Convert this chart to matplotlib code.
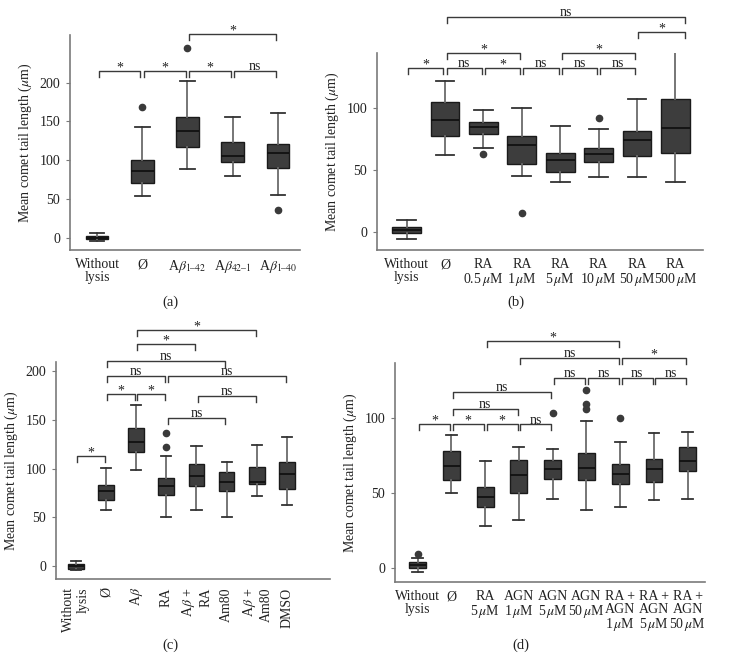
import matplotlib
matplotlib.use('Agg')
import matplotlib.pyplot as plt

plt.rcParams['font.family'] = ['Liberation Serif', 'DejaVu Serif']
plt.rcParams['mathtext.fontset'] = 'stix'

# ---- panel (a) ----
a_labels = ['Without\nlysis', 'Ø', r'A$\beta_{1–42}$', r'A$\beta_{42–1}$', r'A$\beta_{1–40}$']
a_low = [-4, 54, 89, 79, 55]
a_q1 = [-2, 71, 117, 98, 90]
a_med = [0, 85.5, 137, 106, 109]
a_q3 = [2, 100, 156, 123, 121]
a_high = [5.5, 143, 202, 156, 161]
a_out = [[], [168], [245], [], [36]]
a_brackets = [(0, 1, 215, '*'), (1, 2, 215, '*'), (2, 3, 215, '*'),
              (3, 4, 215, 'ns'), (2, 4, 263, '*')]

# ---- panel (b) ----
b_labels = ['Without\nlysis', 'Ø', 'RA\n0.5$\\,\\mu$M', 'RA\n1$\\,\\mu$M', 'RA\n5$\\,\\mu$M',
            'RA\n10$\\,\\mu$M', 'RA\n50$\\,\\mu$M', 'RA\n500$\\,\\mu$M']
b_low = [-6, 62, 68, 45, 40, 44, 44.6, 40]
b_q1 = [-1.3, 78, 79.5, 54.6, 48.7, 56.8, 61.6, 64]
b_med = [1.4, 91, 84.7, 70, 58, 63.3, 74.4, 84]
b_q3 = [4, 105, 88.7, 77.4, 64, 67.6, 81.7, 108]
b_high = [9.5, 122.5, 98.7, 100.6, 86, 83.6, 107.4, 146.8]
b_out = [[], [], [63.3], [14.9], [], [92.5], [], []]
b_brackets = [(0, 1, 132.5, '*'), (1, 2, 132.5, 'ns'), (2, 3, 132.5, '*'),
              (3, 4, 132.5, 'ns'), (4, 5, 132.5, 'ns'), (5, 6, 132.5, 'ns'),
              (1, 3, 145, '*'), (4, 6, 145, '*'), (6, 7.3, 161.7, '*'),
              (1, 7.3, 174.5, 'ns')]

# ---- panel (c) ----
c_labels = ['Without\nlysis', 'Ø', r'A$\beta$', 'RA', 'A$\\beta$ +\nRA', 'Am80',
            'A$\\beta$ +\nAm80', 'DMSO']
c_low = [-4, 58, 98.7, 51, 58, 51, 72, 62.7]
c_q1 = [-2.4, 67.7, 116.7, 73.5, 82.3, 76.9, 84.1, 79]
c_med = [0, 77.2, 127.2, 82.3, 92.9, 86.4, 86.1, 94.3]
c_q3 = [2.4, 83, 141.2, 90.2, 105.1, 96.3, 101.4, 106.5]
c_high = [5, 100.4, 165, 112.7, 122.8, 106.5, 123.9, 132]
c_out = [[], [], [], [121.8, 136.7], [], [], [], []]
c_brackets = [(0, 1, 113.3, '*'), (1, 2, 176, '*'), (2, 3, 176, '*'),
              (3, 5, 151.4, 'ns'), (4, 6, 174.2, 'ns'), (1, 3, 194.6, 'ns'),
              (3, 7, 194.6, 'ns'), (1, 5, 210.2, 'ns'), (2, 4, 227.2, '*'),
              (2, 6, 241.5, '*')]

# ---- panel (d) ----
d_labels = ['Without\nlysis', 'Ø', 'RA\n5$\\,\\mu$M', 'AGN\n1$\\,\\mu$M', 'AGN\n5$\\,\\mu$M',
            'AGN\n50$\\,\\mu$M', 'RA +\nAGN\n1$\\,\\mu$M', 'RA +\nAGN\n5$\\,\\mu$M',
            'RA +\nAGN\n50$\\,\\mu$M']
d_low = [-2.4, 50, 28, 32, 46.4, 39, 41, 45.5, 46.4]
d_q1 = [0, 58.9, 41, 50, 59.8, 58.7, 56, 57.7, 64.7]
d_med = [2, 68.2, 47.3, 62, 66, 66.7, 62.9, 66, 71.7]
d_q3 = [4, 78.4, 54.4, 72.2, 72, 76.7, 69.5, 72.7, 80.7]
d_high = [7, 88.9, 71.5, 80.7, 79.8, 98.2, 84, 90, 91]
d_out = [[9.5], [], [], [], [104], [106.4, 109.5, 119], [100.2], [], []]
d_brackets = [(0, 1, 96, '*'), (1, 2, 96, '*'), (2, 3, 96, '*'), (3, 4, 96, 'ns'),
              (1, 3, 106.4, 'ns'), (1, 4, 117.7, 'ns'),
              (4, 5, 127.3, 'ns'), (5, 6, 127.3, 'ns'), (6, 7, 127.3, 'ns'),
              (7, 8, 127.3, 'ns'), (3, 6, 140.7, 'ns'), (6, 8, 140.7, '*'),
              (2, 6, 151.7, '*')]

W, H = 730, 661
fig = plt.figure(figsize=(W / 100, H / 100), dpi=100)


def make_axes(left, top, right, bottom):
    return fig.add_axes([left / W, 1 - bottom / H, (right - left) / W, (bottom - top) / H])


def draw_panel(ax, labels, low, q1, med, q3, high, out, brackets, width, xlim, ylim,
               yticks, rot=False):
    stats = []
    for i in range(len(labels)):
        stats.append(dict(med=med[i], q1=q1[i], q3=q3[i], whislo=low[i],
                          whishi=high[i], fliers=out[i]))
    ax.bxp(stats, positions=range(len(labels)), widths=width, patch_artist=True,
           capwidths=width * 0.65,
           boxprops=dict(facecolor='#3d3d3d', edgecolor='#1a1a1a', linewidth=1),
           medianprops=dict(color='#111111', linewidth=1.3),
           whiskerprops=dict(color='#6b6b6b', linewidth=1.3),
           capprops=dict(color='#333333', linewidth=1.3),
           flierprops=dict(marker='o', markerfacecolor='#3a3a3a',
                           markeredgecolor='#3a3a3a', markersize=4.5))
    ax.set_xlim(*xlim)
    ax.set_ylim(*ylim)
    ax.set_yticks(yticks)
    ax.set_xticks(range(len(labels)))
    if rot:
        ax.set_xticklabels(labels, rotation=90, va='top', ha='center',
                           multialignment='right')
    else:
        ax.set_xticklabels(labels, linespacing=1.0)
    for s in ['top', 'right']:
        ax.spines[s].set_visible(False)
    for s in ['left', 'bottom']:
        ax.spines[s].set_color('#7a7a7a')
        ax.spines[s].set_linewidth(1.2)
    ax.tick_params(axis='y', length=3, color='#7a7a7a', labelsize=10, pad=4,
                   labelcolor='#222222')
    ax.tick_params(axis='x', length=0, labelsize=10, pad=6, labelcolor='#222222')
    ax.set_ylabel(r'Mean comet tail length ($\mu$m)', fontsize=10, color='#222222')

    # brackets with tick length of about 6 px
    ax_h = ax.get_position().height * H
    dy = 6 * (ylim[1] - ylim[0]) / ax_h
    for x1, x2, y, txt in brackets:
        g = 0.04
        ax.plot([x1 + g, x1 + g, x2 - g, x2 - g], [y - dy, y, y, y - dy],
                color='#3a3a3a', lw=1, clip_on=False)
        off = -2.5 if txt == '*' else -1.5
        ax.annotate(txt, xy=((x1 + x2) / 2, y), xytext=(0, off),
                    textcoords='offset points', ha='center', va='bottom',
                    fontsize=10, color='#222222', annotation_clip=False)


ax_a = make_axes(70, 35, 300, 250)
draw_panel(ax_a, a_labels, a_low, a_q1, a_med, a_q3, a_high, a_out, a_brackets,
           0.5, (-0.6, 4.49), (-15.9, 261.5), [0, 50, 100, 150, 200])

ax_b = make_axes(377, 53, 703, 250)
draw_panel(ax_b, b_labels, b_low, b_q1, b_med, b_q3, b_high, b_out, b_brackets,
           0.75, (-0.77, 7.72), (-14.9, 145), [0, 50, 100])

ax_c = make_axes(56, 362, 330, 579)
draw_panel(ax_c, c_labels, c_low, c_q1, c_med, c_q3, c_high, c_out, c_brackets,
           0.52, (-0.66, 8.43), (-12.9, 209), [0, 50, 100, 150, 200], rot=True)

ax_d = make_axes(395, 363, 705, 582)
draw_panel(ax_d, d_labels, d_low, d_q1, d_med, d_q3, d_high, d_out, d_brackets,
           0.5, (-0.67, 8.51), (-9.3, 137.1), [0, 50, 100])

for x, y, t in [(170, 302, '(a)'), (516, 302, '(b)'), (170, 645, '(c)'), (521, 645, '(d)')]:
    fig.text(x / W, 1 - y / H, t, ha='center', va='center', fontsize=10.5, color='#222222')

fig.savefig('out.png', dpi=100)
